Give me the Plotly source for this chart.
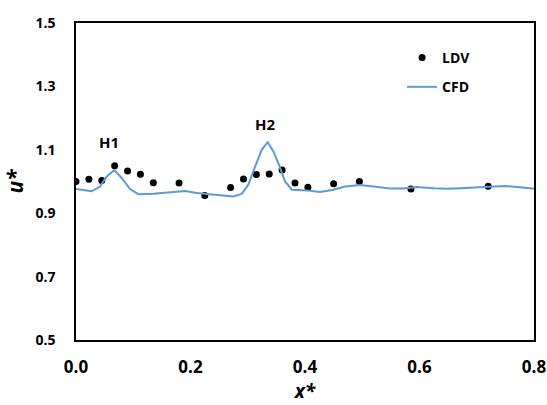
import plotly.graph_objects as go

# LDV measurements
ldv_x = [0.0, 0.0225, 0.045, 0.0675, 0.09, 0.1125, 0.135, 0.18, 0.225, 0.27,
         0.2925, 0.315, 0.3375, 0.36, 0.3825, 0.405, 0.45, 0.495, 0.585, 0.72]
ldv_y = [1.000, 1.007, 1.003, 1.050, 1.033, 1.023, 0.996, 0.995, 0.956, 0.981,
         1.008, 1.022, 1.024, 1.036, 0.995, 0.982, 0.993, 1.000, 0.976, 0.985]

# CFD profile
cfd_x = [0.0, 0.0274, 0.042, 0.0536, 0.0669, 0.0799, 0.0944, 0.1089, 0.135, 0.1643,
         0.1905, 0.2109, 0.2399, 0.2749, 0.2895, 0.3011, 0.3128, 0.3244, 0.3349, 0.3448,
         0.3535, 0.3652, 0.3768, 0.4031, 0.4263, 0.4496, 0.47, 0.4962, 0.5195, 0.5486,
         0.5719, 0.5952, 0.6243, 0.6476, 0.6709, 0.70, 0.729, 0.7495, 0.7757, 0.80]
cfd_y = [0.976, 0.969, 0.984, 1.016, 1.036, 1.011, 0.976, 0.960, 0.961, 0.965,
         0.970, 0.964, 0.959, 0.953, 0.961, 0.990, 1.047, 1.100, 1.124, 1.095,
         1.057, 1.000, 0.974, 0.972, 0.967, 0.974, 0.984, 0.989, 0.984, 0.978,
         0.978, 0.983, 0.979, 0.977, 0.979, 0.981, 0.983, 0.986, 0.982, 0.977]

labels = ["H1", "H2"]
label_x = [0.0577, 0.330]
label_y = [1.126, 1.180]

x_ticks = [0.0, 0.2, 0.4, 0.6, 0.8]
y_ticks = [0.5, 0.7, 0.9, 1.1, 1.3, 1.5]

FONT = "'Open Sans', sans-serif"

fig = go.Figure()
fig.add_trace(go.Scatter(x=ldv_x, y=ldv_y, mode="markers", name="LDV",
                         marker=dict(color="black", size=7), legendgroup="a"))
fig.add_trace(go.Scatter(x=cfd_x, y=cfd_y, mode="lines", name="CFD",
                         line=dict(color="#5B9BD5", width=2), legendgroup="b"))

for t, xx, yy in zip(labels, label_x, label_y):
    fig.add_annotation(x=xx, y=yy, text=t, showarrow=False,
                       font=dict(family=FONT, size=15, color="black", weight="bold"))

axis_common = dict(showline=True, linecolor="black", linewidth=1.5, mirror=True,
                   showgrid=False, zeroline=False, ticks="", automargin=False)

fig.update_xaxes(range=[0, 0.8], tickvals=x_ticks,
                 ticktext=["%.1f" % v for v in x_ticks],
                 ticklabelstandoff=11,
                 tickfont=dict(family=FONT, size=17, color="black", weight="bold"),
                 title=dict(text="<i>x*</i>",
                            font=dict(family=FONT, size=19, color="black", weight="bold"),
                            standoff=4),
                 **axis_common)
fig.update_yaxes(range=[0.5, 1.5], tickvals=y_ticks,
                 ticktext=["%.1f" % v for v in y_ticks],
                 ticklabelstandoff=16,
                 tickfont=dict(family=FONT, size=14, color="black", weight="bold"),
                 title=dict(text="<i>u*</i>",
                            font=dict(family=FONT, size=21, color="black", weight="bold"),
                            standoff=6),
                 **axis_common)

fig.update_layout(
    width=547, height=405,
    margin=dict(l=76, r=13, t=23, b=65),
    plot_bgcolor="white", paper_bgcolor="white",
    legend=dict(x=0.712, y=0.94, xanchor="left", yanchor="top",
                font=dict(family=FONT, size=14, color="black", weight="bold"),
                bgcolor="rgba(0,0,0,0)", tracegroupgap=8, itemwidth=30),
    showlegend=True,
)

fig.write_html("out.html", config={"displayModeBar": False},
               post_script="document.body.style.margin='0';document.body.style.padding='0';")
